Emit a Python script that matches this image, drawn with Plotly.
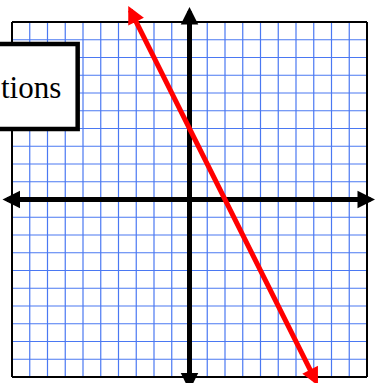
import plotly.graph_objects as go

# grid from -10 to 10 in both directions
grid_vals = list(range(-10, 11))
# the red line y = -2x + 4, end points (arrow tips)
line_x = [-3.45, 7.28]
line_y = [10.9, -10.56]
# axis arrow tips
x_axis_ends = [-10.62, 10.45]
y_axis_ends = [-10.85, 10.85]
box_text = "tions"

fig = go.Figure()

# blue grid first, black border on top
for v in grid_vals:
    if v in (-10, 10):
        continue
    fig.add_shape(type="line", x0=v, x1=v, y0=-10, y1=10,
                  line=dict(color="#4a78f2", width=1.2), layer="below")
    fig.add_shape(type="line", x0=-10, x1=10, y0=v, y1=v,
                  line=dict(color="#4a78f2", width=1.2), layer="below")
for v in (-10, 10):
    fig.add_shape(type="line", x0=v, x1=v, y0=-10, y1=10,
                  line=dict(color="black", width=2), layer="below")
    fig.add_shape(type="line", x0=-10, x1=10, y0=v, y1=v,
                  line=dict(color="black", width=2), layer="below")

# title box (runs off the left edge)
fig.add_shape(type="rect", x0=-13, x1=-6.3, y0=3.97, y1=8.76,
              line=dict(color="black", width=4.5), fillcolor="white", layer="above")
fig.add_annotation(x=-7.12, y=6.3, xref="x", yref="y", text=box_text, showarrow=False,
                   xanchor="right", yanchor="middle",
                   font=dict(family="Liberation Serif", size=31, color="black"))

# axes with arrows at both ends
arrow_kw = dict(xref="x", yref="y", axref="x", ayref="y", text="", showarrow=True,
                arrowhead=2, startarrowhead=2, arrowside="end+start")
fig.add_annotation(x=x_axis_ends[1], y=0, ax=x_axis_ends[0], ay=0,
                   arrowwidth=5, arrowsize=0.7, startarrowsize=0.7, arrowcolor="black", **arrow_kw)
fig.add_annotation(x=0, y=y_axis_ends[1], ax=0, ay=y_axis_ends[0],
                   arrowwidth=5, arrowsize=0.7, startarrowsize=0.7, arrowcolor="black", **arrow_kw)

# the red line
fig.add_annotation(x=line_x[0], y=line_y[0], ax=line_x[1], ay=line_y[1],
                   arrowwidth=5, arrowsize=0.7, startarrowsize=0.7, arrowcolor="#ff0000", **arrow_kw)

fig.update_layout(width=379, height=383, margin=dict(l=0, r=0, t=0, b=0),
                  plot_bgcolor="white", paper_bgcolor="white", showlegend=False,
                  xaxis=dict(range=[-10.676, 10.676], visible=False, fixedrange=True),
                  yaxis=dict(range=[-10.338, 11.239], visible=False, fixedrange=True))

fig.write_html("out.html", config={"displayModeBar": False},
               post_script="document.body.style.margin='0';document.body.style.overflow='hidden';")
